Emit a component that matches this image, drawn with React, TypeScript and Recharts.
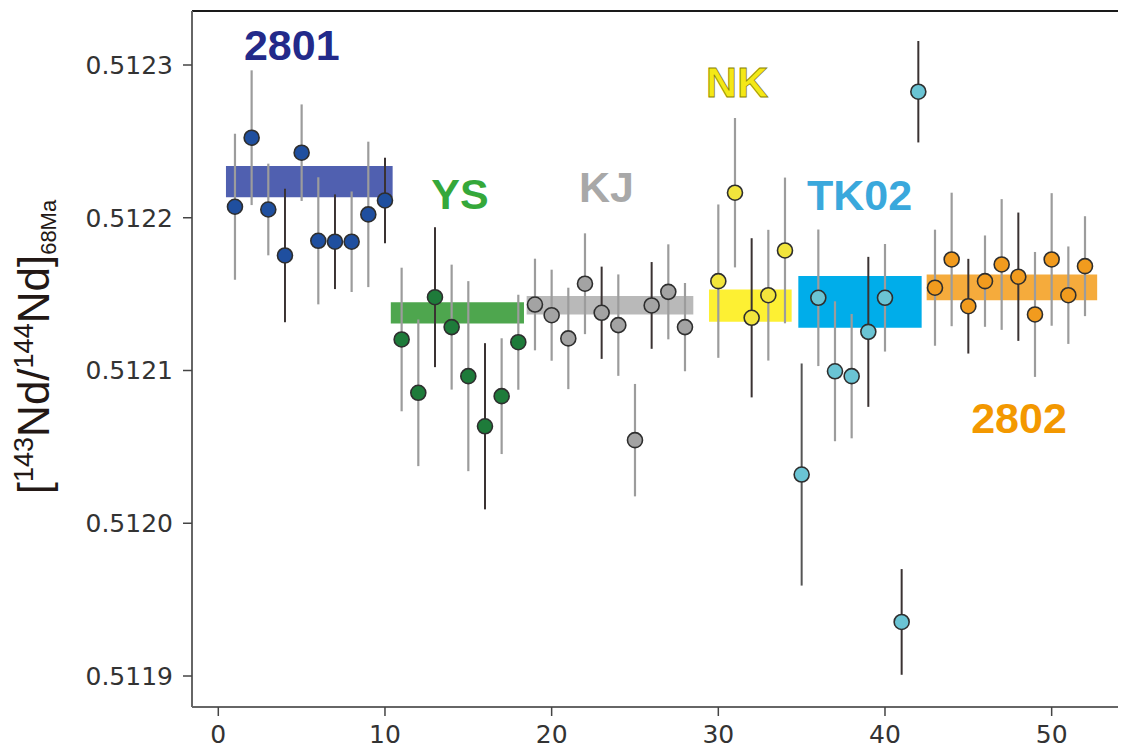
import React from 'react';
import { ScatterChart, Scatter, XAxis, YAxis, ErrorBar, ReferenceArea, ReferenceLine } from 'recharts';

// ---- data ----
const groupNames = ['2801', 'YS', 'KJ', 'NK', 'TK02', '2802'];

const x2801 = [1, 2, 3, 4, 5, 6, 7, 8, 9, 10];
const nd2801 = [0.5122072, 0.5122524, 0.5122054, 0.5121753, 0.5122426, 0.5121849, 0.5121843, 0.5121843, 0.5122022, 0.5122113];
const err2801 = [4.78e-5, 4.41e-5, 3.0e-5, 4.37e-5, 3.16e-5, 4.16e-5, 3.1e-5, 3.29e-5, 4.76e-5, 2.8e-5];
const dark2801 = [4, 7, 10];

const xYS = [11, 12, 13, 14, 15, 16, 17, 18];
const ndYS = [0.5121203, 0.5120854, 0.512148, 0.5121284, 0.5120963, 0.5120635, 0.5120832, 0.5121185];
const errYS = [4.7e-5, 4.8e-5, 4.58e-5, 4.09e-5, 6.22e-5, 5.44e-5, 3.79e-5, 3.11e-5];
const darkYS = [13, 16];

const xKJ = [19, 20, 21, 22, 23, 24, 25, 26, 27, 28];
const ndKJ = [0.5121432, 0.5121362, 0.512121, 0.5121568, 0.5121378, 0.5121297, 0.5120544, 0.5121426, 0.5121515, 0.5121284];
const errKJ = [3.0e-5, 2.98e-5, 3.32e-5, 3.3e-5, 3.02e-5, 3.32e-5, 3.68e-5, 2.84e-5, 3.11e-5, 2.89e-5];
const darkKJ = [23, 26];

const xNK = [30, 31, 32, 33, 34];
const ndNK = [0.5121585, 0.5122164, 0.5121345, 0.5121493, 0.5121786];
const errNK = [5.02e-5, 4.89e-5, 5.21e-5, 4.28e-5, 4.77e-5];
const darkNK = [32];

const xTK02 = [35, 36, 37, 38, 39, 40, 41, 42];
const ndTK02 = [0.5120319, 0.5121476, 0.5120995, 0.5120963, 0.5121253, 0.5121476, 0.5119354, 0.5122825];
const errTK02 = [7.27e-5, 4.47e-5, 4.58e-5, 4.07e-5, 4.91e-5, 3.52e-5, 3.46e-5, 3.32e-5];
const darkTK02 = [39, 41, 42];
const midTK02 = [35];

const x2802 = [43, 44, 45, 46, 47, 48, 49, 50, 51, 52];
const nd2802 = [0.5121542, 0.5121727, 0.5121421, 0.5121585, 0.5121694, 0.5121614, 0.5121367, 0.5121727, 0.5121493, 0.5121683];
const err2802 = [3.8e-5, 4.37e-5, 3.1e-5, 2.99e-5, 4.28e-5, 4.2e-5, 4.09e-5, 4.34e-5, 3.19e-5, 3.27e-5];
const dark2802 = [45, 48];

// mean bands
const bandX1 = [0.46, 10.35, 18.5, 29.44, 34.8, 42.5];
const bandX2 = [10.46, 18.34, 28.5, 34.4, 42.2, 52.73];
const bandLow = [0.5122135, 0.5121308, 0.5121367, 0.5121319, 0.512128, 0.512146];
const bandHigh = [0.5122338, 0.5121447, 0.5121487, 0.512153, 0.5121618, 0.5121629];

// group labels
const labelX = [4.41, 14.5, 23.29, 31.13, 38.47, 48.04];
const labelY = [0.5123033, 0.5122055, 0.5122105, 0.5122789, 0.5122051, 0.5120593];

const xTicks = [0, 10, 20, 30, 40, 50];
const yTicks = [0.5119, 0.512, 0.5121, 0.5122, 0.5123];

// ---- styling ----
const markerFill = ['#1f4f9f', '#1e7b3a', '#a3a3a3', '#f2e53c', '#6ac4d4', '#f19b1e'];
const bandFill = ['#5060b0', '#4ea64e', '#b9b9b9', '#fdf033', '#00adea', '#f5ab3c'];
const labelFill = ['#232a8a', '#35a83a', '#a8a8a8', '#f4e816', '#3aa8dc', '#f39800'];
const labelStroke = ['none', 'none', 'none', '#8a8300', 'none', 'none'];

const xDomain: [number, number] = [-1.578, 53.98];
const yDomain: [number, number] = [0.51187971, 0.51233535];

const groupX = [x2801, xYS, xKJ, xNK, xTK02, x2802];
const groupY = [nd2801, ndYS, ndKJ, ndNK, ndTK02, nd2802];
const groupE = [err2801, errYS, errKJ, errNK, errTK02, err2802];
const groupD = [dark2801, darkYS, darkKJ, darkNK, darkTK02, dark2802];
const groupM = [[], [], [], [], midTK02, []];

const groupData = groupNames.map((_, g) =>
  groupX[g].map((x, i) => {
    const isDark = groupD[g].includes(x);
    const isMid = (groupM[g] as number[]).includes(x);
    const e = groupE[g][i];
    return {
      x,
      y: groupY[g][i],
      eg: isDark || isMid ? 0 : e,
      ed: isDark ? e : 0,
      em: isMid ? e : 0,
    };
  })
);

const labelData = groupNames.map((name, g) => ({ x: labelX[g], y: labelY[g], name, g }));

const tickFont = 'DejaVu Sans, sans-serif';

const YLabel = (props: any) => {
  const vb = props.viewBox || { x: 0, y: 11, width: 192, height: 696 };
  const cx = vb.x + 49;
  const cy = vb.y + vb.height / 2 - 12;
  return (
    <text
      x={cx}
      y={cy}
      transform={`rotate(-90 ${cx} ${cy})`}
      textAnchor="middle"
      fontFamily="Liberation Sans, Arial, sans-serif"
      fontSize={44}
      fill="#231815"
    >
      <tspan>[</tspan>
      <tspan fontSize={27} dy={-16}>143</tspan>
      <tspan dy={16}>Nd/</tspan>
      <tspan fontSize={27} dy={-16}>144</tspan>
      <tspan dy={16}>Nd]</tspan>
      <tspan fontSize={22} dy={7}>68Ma</tspan>
    </text>
  );
};

export default function App() {
  return (
    <div style={{ position: 'absolute', left: 0, top: 0, width: 1122, height: 751, background: '#fff' }}>
      <ScatterChart width={1122} height={751} margin={{ top: 11, right: 4, bottom: 0, left: 0 }}>
        <XAxis
          dataKey="x"
          type="number"
          domain={xDomain}
          allowDataOverflow
          ticks={xTicks}
          height={44}
          tickSize={9}
          tickMargin={9}
          axisLine={{ stroke: '#666', strokeWidth: 2 }}
          tickLine={{ stroke: '#444', strokeWidth: 1.5 }}
          tick={{ fontFamily: tickFont, fontSize: 25, fill: '#333' }}
        />
        <YAxis
          dataKey="y"
          type="number"
          domain={yDomain}
          allowDataOverflow
          ticks={yTicks}
          width={192}
          tickSize={9}
          tickMargin={10}
          axisLine={{ stroke: '#666', strokeWidth: 2 }}
          tickLine={{ stroke: '#444', strokeWidth: 1.5 }}
          tick={{ fontFamily: tickFont, fontSize: 25, fill: '#333' }}
          tickFormatter={(v: number) => v.toFixed(4)}
          label={{ content: YLabel }}
        />
        <ReferenceLine y={yDomain[1]} stroke="#1a1a1a" strokeWidth={2} ifOverflow="visible" />
        {groupNames.map((name, g) => (
          <ReferenceArea
            key={'band' + name}
            x1={bandX1[g]}
            x2={bandX2[g]}
            y1={bandLow[g]}
            y2={bandHigh[g]}
            fill={bandFill[g]}
            fillOpacity={1}
            stroke="none"
            ifOverflow="visible"
          />
        ))}
        {groupNames.map((name, g) => (
          <Scatter
            key={'s' + name}
            data={groupData[g]}
            isAnimationActive={false}
            shape={(p: any) => (
              <circle cx={p.cx} cy={p.cy} r={7.5} fill={markerFill[g]} stroke="#2e2e2e" strokeWidth={1.6} />
            )}
          >
            <ErrorBar dataKey="eg" direction="y" width={0} stroke="#9c9c9c" strokeWidth={2.2} />
            <ErrorBar dataKey="em" direction="y" width={0} stroke="#555" strokeWidth={2} />
            <ErrorBar dataKey="ed" direction="y" width={0} stroke="#3a3232" strokeWidth={2} />
          </Scatter>
        ))}
        <Scatter
          data={labelData}
          isAnimationActive={false}
          shape={(p: any) => {
            const g = p.payload.g;
            return (
              <text
                x={p.cx}
                y={p.cy}
                textAnchor="middle"
                fontFamily="Liberation Sans, Arial, sans-serif"
                fontWeight="bold"
                fontSize={43}
                fill={labelFill[g]}
                stroke={labelStroke[g]}
                strokeWidth={labelStroke[g] === 'none' ? 0 : 0.8}
              >
                {p.payload.name}
              </text>
            );
          }}
        />
      </ScatterChart>
    </div>
  );
}
